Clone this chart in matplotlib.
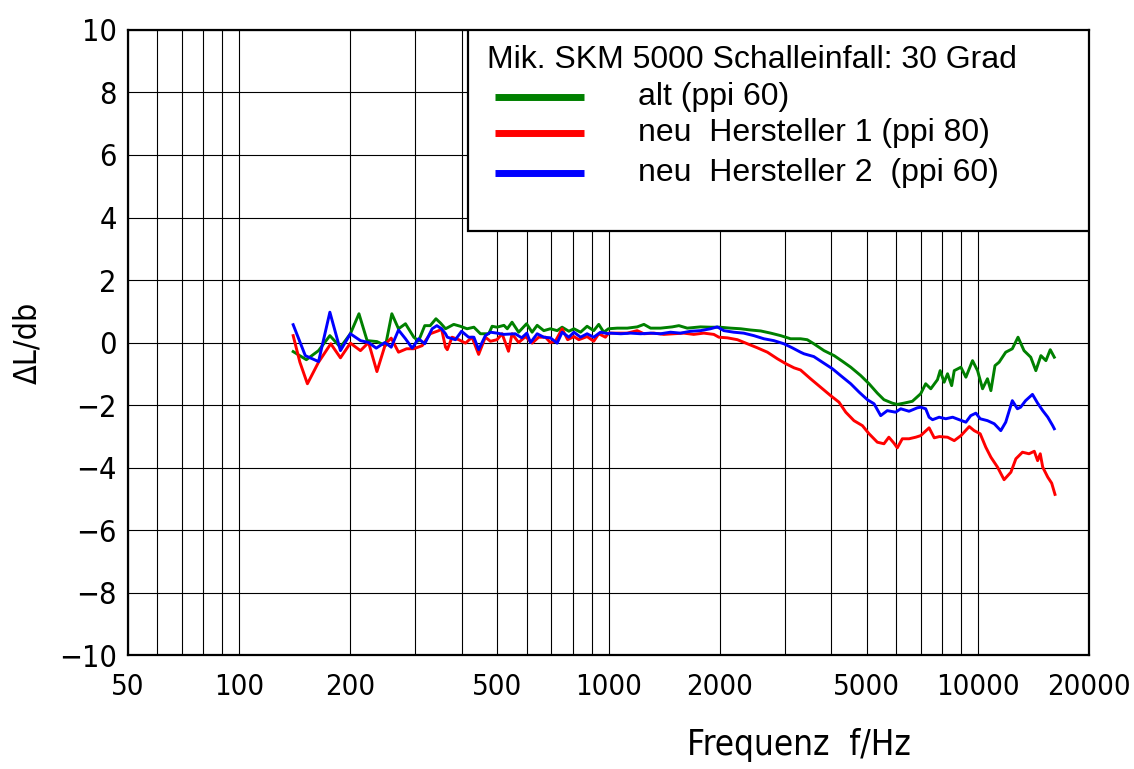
import matplotlib
matplotlib.use('Agg')
import matplotlib.pyplot as plt
from matplotlib.patches import Rectangle
from matplotlib.lines import Line2D

# ── Data ──────────────────────────────────────────────────────────────────────
f_alt = [140, 152, 164, 176, 188, 200, 211, 222, 236, 249, 259, 270, 282, 297,
         306, 318, 329, 341, 351, 362, 381, 397, 414, 432, 450, 474, 484, 499,
         521, 532, 548, 571, 600, 621, 641, 668, 696, 726, 749, 781, 806, 840,
         875, 912, 941, 971, 1000, 1056, 1124, 1196, 1247, 1300, 1383, 1488,
         1551, 1634, 1775, 1889, 2003, 2141, 2280, 2426, 2583, 2750, 2925,
         3112, 3312, 3452, 3597, 3834, 4083, 4298, 4528, 4821, 5076, 5345,
         5570, 5868, 6054, 6310, 6650, 7002, 7225, 7459, 7776, 7908, 8107,
         8280, 8496, 8633, 9000, 9284, 9676, 9985, 10300, 10620, 10850, 11130,
         11420, 11900, 12400, 12850, 13340, 13910, 14360, 14820, 15290, 15710,
         16110]
dl_alt = [-0.29, -0.55, -0.26, 0.22, -0.15, 0.28, 0.92, 0.06, 0.03, -0.10,
          0.92, 0.44, 0.60, 0.17, 0.05, 0.54, 0.54, 0.76, 0.62, 0.44, 0.58,
          0.52, 0.44, 0.49, 0.28, 0.28, 0.52, 0.49, 0.55, 0.44, 0.65, 0.33,
          0.60, 0.33, 0.55, 0.38, 0.44, 0.38, 0.49, 0.36, 0.44, 0.33, 0.52,
          0.38, 0.58, 0.33, 0.44, 0.46, 0.46, 0.50, 0.58, 0.46, 0.46, 0.50,
          0.54, 0.46, 0.50, 0.49, 0.49, 0.46, 0.44, 0.40, 0.37, 0.30, 0.22,
          0.12, 0.12, 0.09, -0.04, -0.26, -0.42, -0.60, -0.79, -1.06, -1.32,
          -1.62, -1.83, -1.94, -1.98, -1.94, -1.88, -1.64, -1.32, -1.48, -1.19,
          -0.90, -1.27, -1.00, -1.38, -0.90, -0.79, -1.11, -0.58, -0.90, -1.48,
          -1.16, -1.54, -0.74, -0.63, -0.31, -0.20, 0.17, -0.26, -0.47, -0.90,
          -0.42, -0.58, -0.23, -0.47]

f_h1 = [140, 146, 153, 164, 177, 188, 200, 213, 224, 236, 249, 258, 270, 284,
        297, 313, 329, 347, 353, 362, 366, 377, 393, 410, 427, 445, 464, 479,
        499, 515, 536, 548, 571, 596, 621, 647, 675, 696, 718, 749, 775, 806,
        831, 875, 912, 941, 981, 1000, 1056, 1124, 1196, 1247, 1327, 1412,
        1502, 1598, 1701, 1811, 1928, 1990, 2098, 2234, 2377, 2530, 2693,
        2866, 3023, 3180, 3312, 3524, 3752, 3995, 4209, 4390, 4620, 4870,
        5076, 5345, 5570, 5743, 5928, 6054, 6246, 6513, 6790, 7002, 7380,
        7621, 7870, 8280, 8633, 9000, 9480, 9777, 10150, 10510, 10850, 11310,
        11780, 12290, 12680, 13210, 13760, 14220, 14520, 14760, 14990, 15470,
        15850, 16180]
dl_h1 = [0.22, -0.63, -1.32, -0.63, -0.04, -0.49, -0.02, -0.26, 0.00, -0.93,
         -0.04, 0.14, -0.31, -0.20, -0.20, -0.10, 0.28, 0.38, 0.44, -0.15,
         -0.23, 0.17, 0.09, -0.02, 0.17, -0.38, 0.17, 0.04, 0.09, 0.28, -0.28,
         0.28, 0.00, 0.19, -0.02, 0.17, 0.17, 0.00, 0.04, 0.44, 0.09, 0.19,
         0.09, 0.19, 0.04, 0.28, 0.17, 0.30, 0.30, 0.30, 0.38, 0.28, 0.30,
         0.26, 0.28, 0.30, 0.26, 0.30, 0.26, 0.17, 0.15, 0.09, -0.04, -0.17,
         -0.31, -0.52, -0.68, -0.81, -0.88, -1.16, -1.43, -1.70, -1.91, -2.23,
         -2.50, -2.66, -2.92, -3.19, -3.24, -3.03, -3.22, -3.37, -3.08, -3.08,
         -3.03, -2.98, -2.73, -3.05, -3.01, -3.03, -3.14, -2.98, -2.69, -2.82,
         -2.92, -3.35, -3.67, -3.99, -4.39, -4.15, -3.72, -3.51, -3.56, -3.48,
         -3.78, -3.56, -3.99, -4.31, -4.50, -4.86]

f_h2 = [140, 151, 164, 176, 188, 200, 213, 224, 235, 248, 258, 270, 282, 294,
        306, 318, 333, 343, 353, 362, 366, 385, 400, 418, 432, 445, 464, 479,
        499, 521, 559, 582, 601, 615, 641, 668, 696, 726, 749, 781, 806, 840,
        875, 912, 951, 1000, 1012, 1080, 1147, 1222, 1300, 1383, 1472, 1566,
        1668, 1775, 1889, 1970, 2052, 2183, 2323, 2475, 2635, 2804, 2985,
        3145, 3312, 3382, 3597, 3794, 4040, 4254, 4528, 4773, 5023, 5236,
        5458, 5687, 5988, 6185, 6513, 6858, 7002, 7225, 7380, 7540, 7858,
        8190, 8548, 8905, 9284, 9570, 9880, 10150, 10620, 11080, 11540, 11900,
        12400, 12800, 13060, 13470, 14060, 14520, 14990, 15470, 15950, 16110]
dl_h2 = [0.57, -0.42, -0.61, 0.97, -0.26, 0.28, 0.06, 0.00, -0.18, 0.00,
         -0.15, 0.40, 0.12, -0.18, 0.12, -0.04, 0.44, 0.54, 0.44, 0.28, 0.17,
         0.09, 0.36, 0.17, 0.17, -0.23, 0.22, 0.33, 0.30, 0.26, 0.28, 0.15,
         0.30, 0.00, 0.28, 0.17, 0.15, -0.02, 0.33, 0.17, 0.33, 0.17, 0.28,
         0.17, 0.33, 0.28, 0.30, 0.28, 0.30, 0.28, 0.30, 0.28, 0.33, 0.30,
         0.36, 0.38, 0.44, 0.50, 0.38, 0.33, 0.30, 0.22, 0.12, 0.06, -0.04,
         -0.17, -0.31, -0.36, -0.45, -0.63, -0.84, -1.06, -1.32, -1.59, -1.83,
         -1.96, -2.34, -2.18, -2.23, -2.12, -2.20, -2.09, -2.07, -2.12, -2.39,
         -2.47, -2.39, -2.44, -2.39, -2.47, -2.55, -2.34, -2.26, -2.44, -2.50,
         -2.60, -2.82, -2.55, -1.86, -2.12, -2.07, -1.86, -1.66, -1.94, -2.18,
         -2.39, -2.66, -2.76]

series_labels = ['alt (ppi 60)',
                 'neu  Hersteller 1 (ppi 80)',
                 'neu  Hersteller 2  (ppi 60)']
series_colors = ['#008000', '#ff0000', '#0000ff']
legend_title = 'Mik. SKM 5000 Schalleinfall: 30 Grad'

x_ticks = [50, 100, 200, 500, 1000, 2000, 5000, 10000, 20000]
x_grid = [50, 60, 70, 80, 90, 100, 200, 300, 400, 500, 600, 700, 800, 900,
          1000, 2000, 3000, 4000, 5000, 6000, 7000, 8000, 9000, 10000, 20000]
y_ticks = list(range(-10, 11, 2))

# ── Figure ───────────────────────────────────────────────────────────────────
tick_font = ['DejaVu Sans Condensed', 'DejaVu Sans']
leg_font = ['Liberation Sans', 'DejaVu Sans']

fig = plt.figure(figsize=(11.34, 7.69), dpi=100)
ax = fig.add_axes([0.1129, 0.1482, 0.8474, 0.8128])

ax.set_xscale('log')
ax.set_xlim(50, 20000)
ax.set_ylim(-10, 10)

for gx in x_grid:
    ax.axvline(gx, color='black', lw=0.8, zorder=1)
for gy in y_ticks:
    ax.axhline(gy, color='black', lw=0.8, zorder=1)

for f, dl, c in zip([f_alt, f_h1, f_h2], [dl_alt, dl_h1, dl_h2], series_colors):
    ax.plot(f, dl, color=c, lw=2.1, zorder=3)

ax.set_xticks(x_ticks)
ax.set_xticklabels([str(v) for v in x_ticks])
ax.xaxis.set_minor_locator(matplotlib.ticker.NullLocator())
ax.set_yticks(y_ticks)
ax.set_yticklabels([str(v).replace('-', '\u2212') for v in y_ticks])
ax.tick_params(axis='y', length=0, pad=8, labelsize=22)
ax.tick_params(axis='x', length=0, pad=13, labelsize=21)
for lab in ax.get_xticklabels() + ax.get_yticklabels():
    lab.set_family(tick_font)
    lab.set_stretch('condensed')
    lab.set_weight('light')

for sp in ax.spines.values():
    sp.set_linewidth(1.6)

ax.set_xlabel('Frequenz  f/Hz', family=tick_font, fontsize=25,
              stretch='condensed', weight='light', ha='center', va='center')
ax.xaxis.set_label_coords(0.698, -0.144)
ax.set_ylabel('\u0394L/db', family=tick_font, fontsize=23,
              stretch='condensed', weight='light', ha='center', va='center')
ax.yaxis.set_label_coords(-0.104, 0.5)

# ── Legend box (drawn by hand to match the reference layout) ─────────────────
box = Rectangle((0.354, 0.678), 0.646, 0.322, transform=ax.transAxes,
                facecolor='white', edgecolor='black', lw=1.6, zorder=5)
ax.add_patch(box)
ax.text(0.3736, 0.952, legend_title, transform=ax.transAxes,
        family=leg_font, fontsize=23, va='center', zorder=6)
row_y = [0.893, 0.835, 0.771]
for yy, lab, c in zip(row_y, series_labels, series_colors):
    ax.add_line(Line2D([0.382, 0.4745], [yy, yy], transform=ax.transAxes,
                       color=c, lw=5, solid_capstyle='butt', zorder=6))
    ax.text(0.531, yy, lab, transform=ax.transAxes, family=leg_font,
            fontsize=23, va='center', zorder=6)

fig.savefig('out.png', dpi=100)
